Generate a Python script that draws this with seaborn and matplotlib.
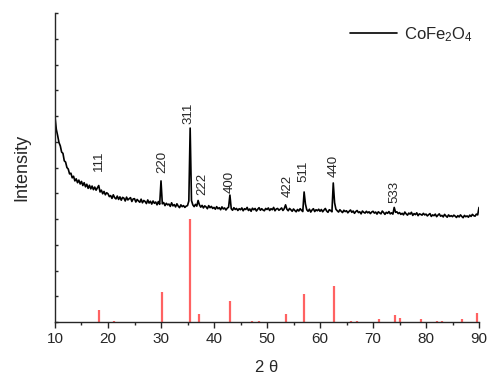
import numpy as np
import pandas as pd
import matplotlib
matplotlib.use("Agg")
import matplotlib.pyplot as plt
import seaborn as sns

# measured pattern, sampled every 0.25 deg from 10 to 90 (rows of 5 deg)
step = 0.25
intensity = [
    796, 748, 724, 697, 684, 660, 655, 626, 621, 600, 594, 575, 578, 560, 566, 548, 556, 541, 551, 536,
    546, 530, 541, 525, 535, 519, 531, 517, 528, 514, 524, 512, 521, 530, 505, 512, 498, 507, 494, 502,
    498, 487, 491, 480, 494, 483, 478, 489, 476, 486, 473, 484, 481, 470, 485, 474, 479, 483, 468, 478,
    479, 466, 476, 470, 465, 477, 463, 472, 468, 460, 474, 462, 469, 458, 470, 461, 466, 455, 468, 457,
    548, 459, 464, 452, 461, 455, 458, 449, 463, 451, 456, 447, 459, 450, 444, 455, 448, 452, 445, 450,
    452, 470, 753, 472, 455, 448, 457, 450, 472, 455, 446, 453, 443, 451, 447, 440, 452, 444, 449, 441,
    445, 438, 448, 440, 444, 436, 447, 439, 443, 435, 442, 446, 493, 440, 434, 444, 437, 441, 433, 440,
    436, 443, 432, 440, 437, 445, 433, 439, 430, 442, 436, 441, 431, 438, 444, 434, 440, 435, 432, 441,
    437, 443, 433, 440, 436, 445, 432, 439, 441, 434, 438, 443, 433, 440, 455, 438, 432, 441, 436, 430,
    439, 433, 428, 437, 431, 440, 434, 429, 505, 458, 436, 430, 438, 427, 435, 440, 429, 436, 432, 438,
    430, 437, 428, 435, 441, 431, 426, 436, 433, 428, 540, 463, 438, 432, 427, 436, 430, 425, 434, 429,
    432, 424, 430, 435, 426, 431, 422, 429, 433, 425, 428, 420, 431, 426, 423, 430, 424, 428, 421, 427,
    430, 423, 427, 419, 428, 424, 420, 431, 425, 418, 426, 422, 429, 420, 424, 419, 445, 426, 428, 421,
    425, 418, 422, 416, 427, 420, 415, 423, 419, 426, 414, 421, 417, 424, 413, 420, 418, 415, 422, 416,
    419, 412, 417, 421, 410, 416, 413, 419, 409, 415, 420, 411, 414, 408, 418, 412, 407, 416, 410, 413,
    409, 415, 411, 406, 413, 408, 416, 410, 405, 414, 409, 412, 407, 415, 410, 418, 413, 411, 419, 416,
    445,
]
two_theta = 10 + step * np.arange(len(intensity))

# reference card sticks
ref_pos = [18.3, 21.2, 30.1, 35.45, 37.1, 43.1, 47.2, 48.5, 53.5, 57.0, 62.6,
           65.8, 66.9, 71.1, 74.1, 75.1, 79.0, 82.0, 83.0, 86.7, 89.7]
ref_int = [47, 4, 117, 400, 31, 82, 3, 3, 33, 110, 140,
           4, 3, 12, 27, 15, 10, 3, 3, 12, 35]

# hkl labels: position, label, height of label base
hkl_pos = [18.3, 30.2, 35.2, 37.8, 43.0, 53.9, 56.9, 62.6, 74.1]
hkl_text = ["111", "220", "311", "222", "400", "422", "511", "440", "533"]
hkl_y = [586, 579, 769, 493, 501, 485, 544, 563, 462]

sns.set_style("ticks")
plt.rcParams["font.family"] = ["Liberation Sans", "DejaVu Sans"]
plt.rcParams["mathtext.default"] = "regular"

df = pd.DataFrame({"two_theta": two_theta, "intensity": intensity})

fig = plt.figure(figsize=(4.88, 3.76), dpi=100)
ax = fig.add_axes([0.1127, 0.1436, 0.8689, 0.8218])

sns.lineplot(data=df, x="two_theta", y="intensity", ax=ax, color="black",
             lw=1.2, estimator=None, sort=False, label="CoFe$_2$O$_4$")
ax.vlines(ref_pos, 0, ref_int, colors="#ff3b3b", lw=1.6, alpha=0.8)

for x, t, y in zip(hkl_pos, hkl_text, hkl_y):
    ax.text(x, y, t, rotation=90, ha="center", va="bottom", fontsize=9.5)

ax.set_xlim(10, 90)
ax.set_ylim(0, 1200)
ax.set_xticks(range(10, 91, 10))
ax.set_xticks(range(15, 90, 10), minor=True)
ax.set_yticks(range(0, 1201, 100))
ax.set_yticklabels([])
ax.tick_params(axis="x", which="major", direction="out", length=4, width=1, labelsize=11)
ax.tick_params(axis="x", which="minor", direction="out", length=2.5, width=1)
ax.tick_params(axis="y", direction="in", length=2.5, width=1)
sns.despine(ax=ax)
for s in ["left", "bottom"]:
    ax.spines[s].set_linewidth(1.0)

ax.set_xlabel("2 θ", fontsize=12, labelpad=10)
ax.set_ylabel("Intensity", fontsize=13, labelpad=14)

ax.legend(loc="upper right", frameon=False, fontsize=12, handlelength=2.8,
          handletextpad=0.4, bbox_to_anchor=(1.02, 1.01))

fig.savefig("out.png", dpi=100)
